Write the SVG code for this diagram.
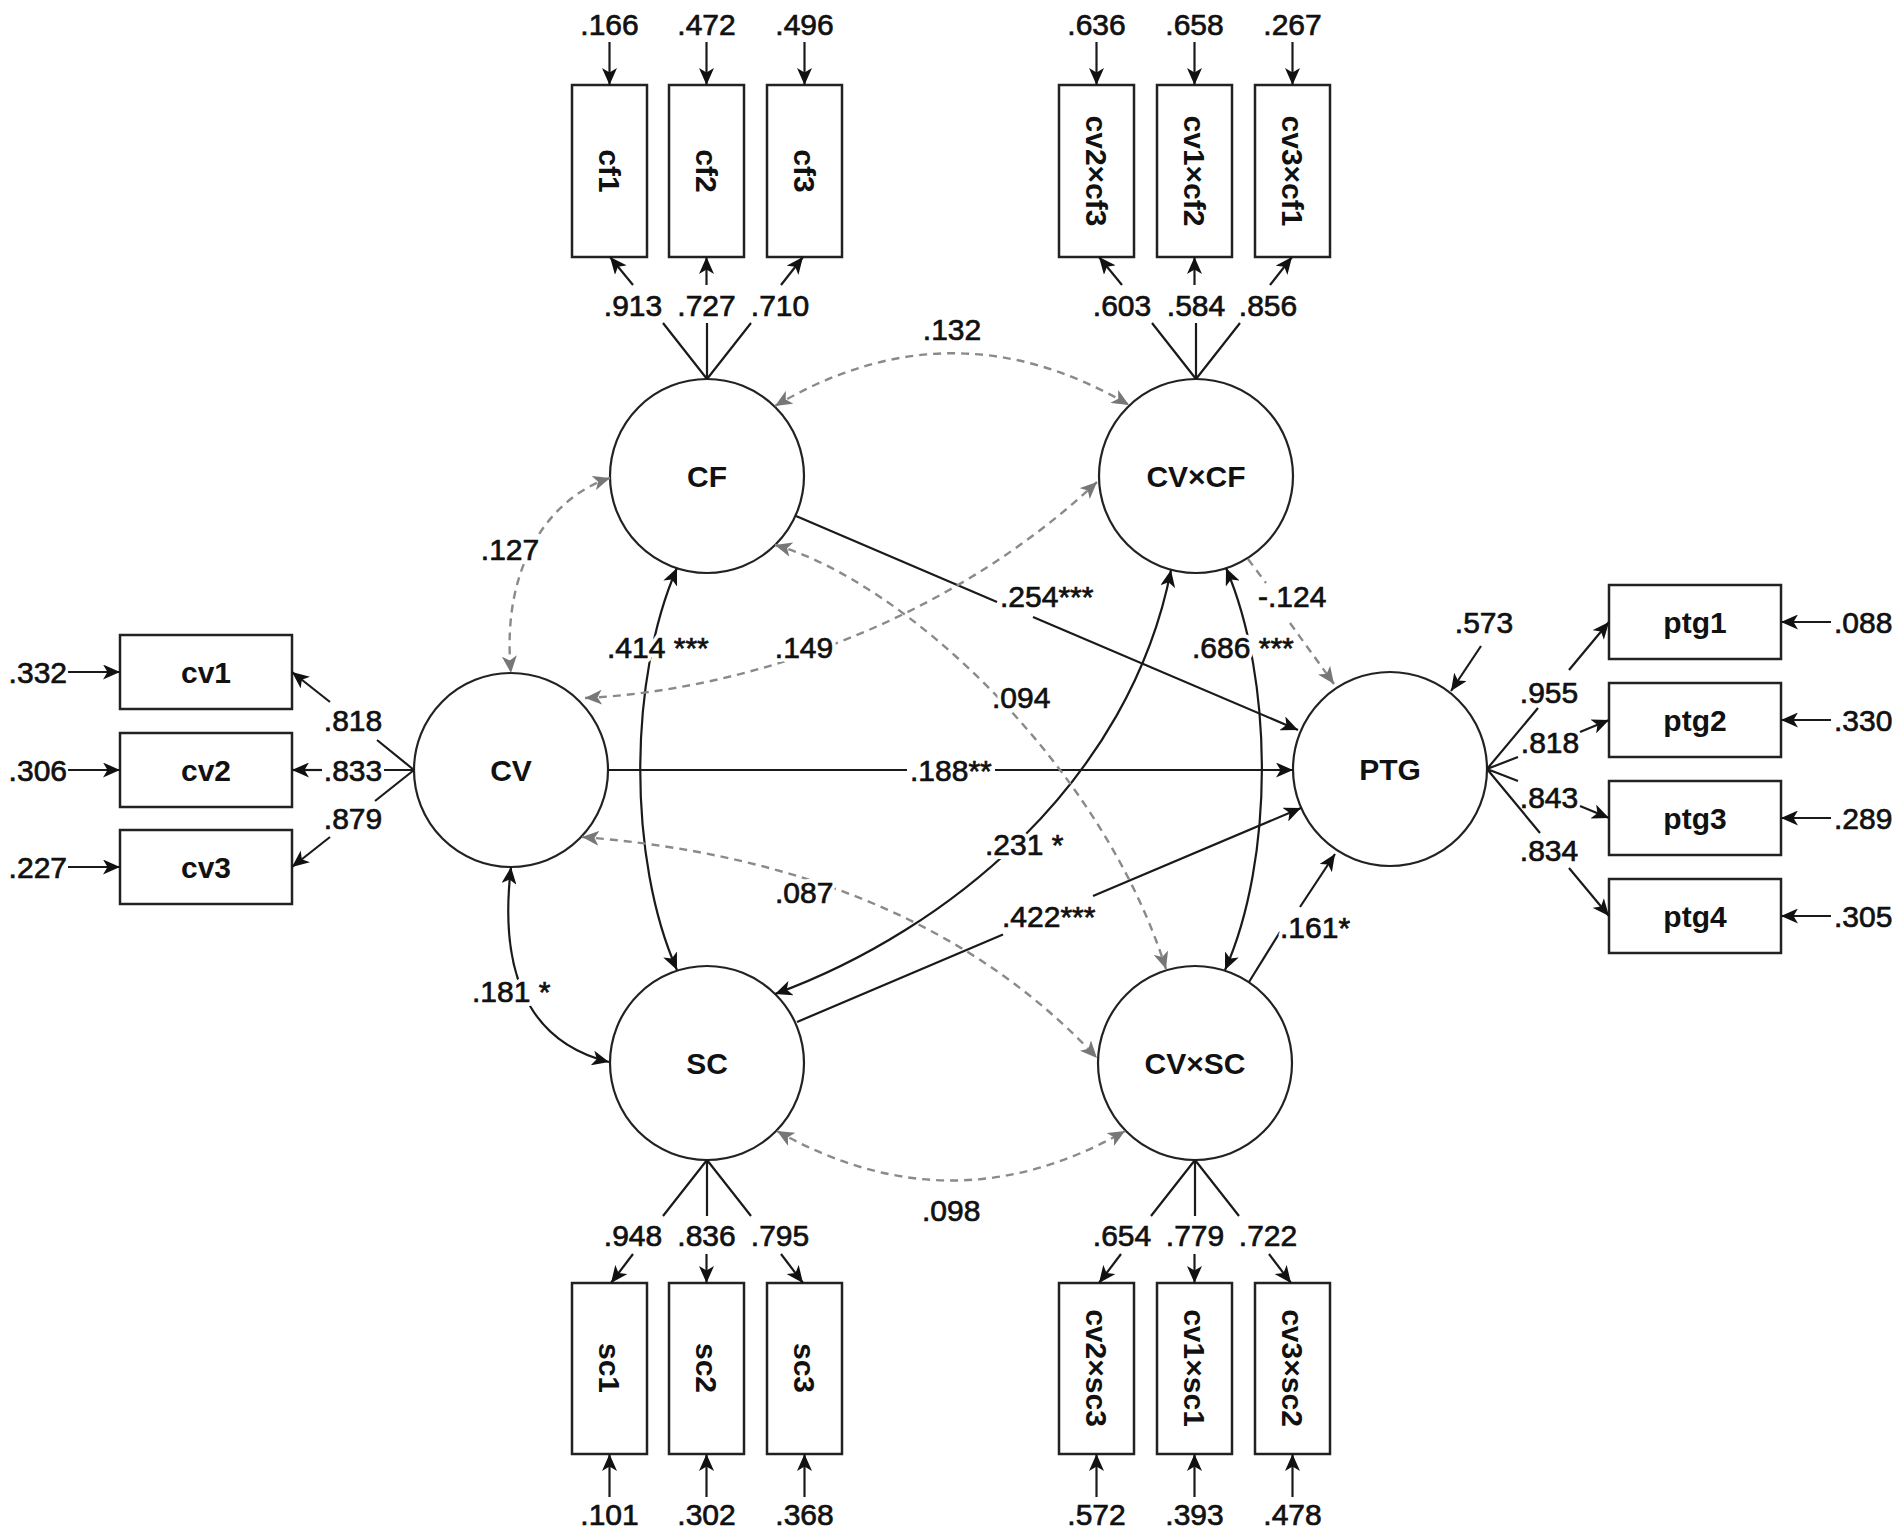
<svg xmlns="http://www.w3.org/2000/svg" width="1902" height="1535" viewBox="0 0 1902 1535">
<style>
text{font-family:"Liberation Sans",Arial,sans-serif;font-size:30px;fill:#111}
.v{stroke:#111;stroke-width:0.7px}
.nm{font-weight:bold}
.m{text-anchor:middle}
.e{text-anchor:end}
.bg{fill:#fff;stroke:#fff;stroke-width:8px;stroke-linejoin:round}
.box{fill:#fff;stroke:#222;stroke-width:2.5}
.lat{fill:#fff;stroke:#222;stroke-width:2.2}
.s{fill:none;stroke:#1a1a1a;stroke-width:2.2}
.d{fill:none;stroke:#8a8a8a;stroke-width:2.4;stroke-dasharray:8 6}
.ae{marker-end:url(#a)}
.ab{marker-start:url(#a);marker-end:url(#a)}
.ge{marker-end:url(#g)}
.gb{marker-start:url(#g);marker-end:url(#g)}
</style>
<defs>
<marker id="a" viewBox="0 0 17 15" refX="17" refY="7.5" markerWidth="17" markerHeight="15" markerUnits="userSpaceOnUse" orient="auto-start-reverse"><path d="M0,0 L17,7.5 L0,15 L4.5,7.5 Z" fill="#111"/></marker>
<marker id="g" viewBox="0 0 17 15" refX="17" refY="7.5" markerWidth="17" markerHeight="15" markerUnits="userSpaceOnUse" orient="auto-start-reverse"><path d="M0,0 L17,7.5 L0,15 L4.5,7.5 Z" fill="#777"/></marker>
</defs>
<rect width="1902" height="1535" fill="#fff"/>

<g id="latent">
<g id="CF"><circle class="lat" cx="707" cy="476" r="97"/><text class="nm m" x="707" y="487">CF</text></g>
<g id="CVxCF"><circle class="lat" cx="1196" cy="476" r="97"/><text class="nm m" x="1196" y="487">CV×CF</text></g>
<g id="CV"><circle class="lat" cx="511" cy="770" r="97"/><text class="nm m" x="511" y="781">CV</text></g>
<g id="PTG"><circle class="lat" cx="1390" cy="769" r="97"/><text class="nm m" x="1390" y="780">PTG</text></g>
<g id="SC"><circle class="lat" cx="707" cy="1063" r="97"/><text class="nm m" x="707" y="1074">SC</text></g>
<g id="CVxSC"><circle class="lat" cx="1195" cy="1063" r="97"/><text class="nm m" x="1195" y="1074">CV×SC</text></g>
</g>

<g id="indicators">
<g id="cf1"><rect class="box" x="572" y="85" width="75" height="172"/><text class="nm m" transform="translate(609.5,171) rotate(90)" y="11">cf1</text></g>
<g id="cf2"><rect class="box" x="669" y="85" width="75" height="172"/><text class="nm m" transform="translate(706.5,171) rotate(90)" y="11">cf2</text></g>
<g id="cf3"><rect class="box" x="767" y="85" width="75" height="172"/><text class="nm m" transform="translate(804.5,171) rotate(90)" y="11">cf3</text></g>
<g id="cv2xcf3"><rect class="box" x="1059" y="85" width="75" height="172"/><text class="nm m" transform="translate(1096.5,171) rotate(90)" y="11">cv2×cf3</text></g>
<g id="cv1xcf2"><rect class="box" x="1157" y="85" width="75" height="172"/><text class="nm m" transform="translate(1194.5,171) rotate(90)" y="11">cv1×cf2</text></g>
<g id="cv3xcf1"><rect class="box" x="1255" y="85" width="75" height="172"/><text class="nm m" transform="translate(1292.5,171) rotate(90)" y="11">cv3×cf1</text></g>
<g id="sc1"><rect class="box" x="572" y="1283" width="75" height="171"/><text class="nm m" transform="translate(609.5,1368) rotate(90)" y="11">sc1</text></g>
<g id="sc2"><rect class="box" x="669" y="1283" width="75" height="171"/><text class="nm m" transform="translate(706.5,1368) rotate(90)" y="11">sc2</text></g>
<g id="sc3"><rect class="box" x="767" y="1283" width="75" height="171"/><text class="nm m" transform="translate(804.5,1368) rotate(90)" y="11">sc3</text></g>
<g id="cv2xsc3"><rect class="box" x="1059" y="1283" width="75" height="171"/><text class="nm m" transform="translate(1096.5,1368) rotate(90)" y="11">cv2×sc3</text></g>
<g id="cv1xsc1"><rect class="box" x="1157" y="1283" width="75" height="171"/><text class="nm m" transform="translate(1194.5,1368) rotate(90)" y="11">cv1×sc1</text></g>
<g id="cv3xsc2"><rect class="box" x="1255" y="1283" width="75" height="171"/><text class="nm m" transform="translate(1292.5,1368) rotate(90)" y="11">cv3×sc2</text></g>
<g id="cv1"><rect class="box" x="120" y="635" width="172" height="74"/><text class="nm m" x="206" y="683">cv1</text></g>
<g id="cv2"><rect class="box" x="120" y="733" width="172" height="74"/><text class="nm m" x="206" y="781">cv2</text></g>
<g id="cv3"><rect class="box" x="120" y="830" width="172" height="74"/><text class="nm m" x="206" y="878">cv3</text></g>
<g id="ptg1"><rect class="box" x="1609" y="585" width="172" height="74"/><text class="nm m" x="1695" y="633">ptg1</text></g>
<g id="ptg2"><rect class="box" x="1609" y="683" width="172" height="74"/><text class="nm m" x="1695" y="731">ptg2</text></g>
<g id="ptg3"><rect class="box" x="1609" y="781" width="172" height="74"/><text class="nm m" x="1695" y="829">ptg3</text></g>
<g id="ptg4"><rect class="box" x="1609" y="879" width="172" height="74"/><text class="nm m" x="1695" y="927">ptg4</text></g>
</g>

<g id="connectors">
<!-- measurement errors -->
<path class="s ae" d="M609.5,42 V85"/><path class="s ae" d="M706.5,42 V85"/><path class="s ae" d="M804.5,42 V85"/>
<path class="s ae" d="M1096.5,42 V85"/><path class="s ae" d="M1194.5,42 V85"/><path class="s ae" d="M1292.5,42 V85"/>
<path class="s ae" d="M609.5,1497 V1454"/><path class="s ae" d="M706.5,1497 V1454"/><path class="s ae" d="M804.5,1497 V1454"/>
<path class="s ae" d="M1096.5,1497 V1454"/><path class="s ae" d="M1194.5,1497 V1454"/><path class="s ae" d="M1292.5,1497 V1454"/>
<path class="s ae" d="M68,672 H120"/><path class="s ae" d="M68,770 H120"/><path class="s ae" d="M68,867 H120"/>
<path class="s ae" d="M1831,622 H1781"/><path class="s ae" d="M1831,720 H1781"/><path class="s ae" d="M1831,818 H1781"/><path class="s ae" d="M1831,916 H1781"/>
<path class="s ae" d="M1481,646 L1451,691"/>
<!-- loadings CF -->
<path class="s" d="M707,379 L663,323 M707,379 V323 M707,379 L751,323"/>
<path class="s ae" d="M633,285 L610,257"/><path class="s ae" d="M706.5,285 V257"/><path class="s ae" d="M781,285 L803,257"/>
<!-- loadings CVxCF -->
<path class="s" d="M1196,379 L1152,323 M1196,379 V323 M1196,379 L1240,323"/>
<path class="s ae" d="M1122,285 L1099,257"/><path class="s ae" d="M1194.5,285 V257"/><path class="s ae" d="M1270,285 L1292,257"/>
<!-- loadings SC -->
<path class="s" d="M707,1160 L663,1216 M707,1160 V1216 M707,1160 L751,1216"/>
<path class="s ae" d="M633,1254 L611,1283"/><path class="s ae" d="M706.5,1254 V1283"/><path class="s ae" d="M781,1254 L803,1283"/>
<!-- loadings CVxSC -->
<path class="s" d="M1195,1160 L1151,1216 M1195,1160 V1216 M1195,1160 L1239,1216"/>
<path class="s ae" d="M1121,1254 L1099,1283"/><path class="s ae" d="M1194.5,1254 V1283"/><path class="s ae" d="M1269,1254 L1291,1283"/>
<!-- loadings CV -->
<path class="s" d="M414,770 L377,740 M414,770 H384 M414,770 L375,801"/>
<path class="s ae" d="M330,702 L292,672"/><path class="s ae" d="M322,770 H292"/><path class="s ae" d="M330,837 L292,867"/>
<!-- loadings PTG -->
<path class="s" d="M1487,769 L1538,708 M1487,769 L1518,757 M1487,769 L1518,781 M1487,769 L1540,833"/>
<path class="s ae" d="M1569,670 L1609,622"/><path class="s ae" d="M1580,732 L1609,720"/><path class="s ae" d="M1580,806 L1609,818"/><path class="s ae" d="M1569,868 L1609,916"/>

<!-- structural paths -->
<path class="s" d="M796,516 L997,602"/><path class="s ae" d="M1033,617 L1298,730"/>
<path class="s" d="M608,770 H907"/><path class="s ae" d="M995,770 H1293"/>
<path class="s" d="M797,1022 L1003,934.5"/><path class="s ae" d="M1093,896 L1301,808"/>
<path class="s" d="M1249,982 L1280,932"/><path class="s ae" d="M1300,907 L1335,854"/>
<path class="d" d="M1248,559 L1266,583"/><path class="d ge" d="M1290,623 L1334,684"/>

<!-- covariances -->
<path class="s ab" d="M677,568 C628,680 628,860 677,970"/>
<path class="s ab" d="M1226,568 C1274,680 1274,860 1225,970"/>
<path class="s ab" d="M775,994 C950,930 1130,780 1171,570"/>
<path class="s ab" d="M511,867 C500,960 520,1040 609,1062"/>
<path class="d gb" d="M775,406 Q952,301 1129,405"/>
<path class="d gb" d="M610,478 C555,495 500,560 511,673"/>
<path class="d gb" d="M585,698 C750,690 950,620 1097,482"/>
<path class="d gb" d="M775,545 C900,580 1100,760 1166,969"/>
<path class="d gb" d="M582,837 C750,850 950,900 1097,1058"/>
<path class="d gb" d="M777,1131 Q952,1230 1125,1131"/>

<!-- path labels: white underlay, then text -->
<g class="bg">
<text class="m" x="510" y="560">.127</text>
<text class="m" x="804" y="658">.149</text>
<text x="607" y="658">.414 ***</text>
<text x="1000" y="607">.254***</text>
<text x="1258" y="607">-.124</text>
<text x="1192" y="658">.686 ***</text>
<text x="992" y="708">.094</text>
<text x="910" y="781">.188**</text>
<text x="985" y="855">.231 *</text>
<text x="775" y="903">.087</text>
<text x="1002" y="927">.422***</text>
<text x="472" y="1002">.181 *</text>
<text x="1280" y="938">.161*</text>
</g>
<text class="v m" x="510" y="560">.127</text>
<text class="v m" x="804" y="658">.149</text>
<text class="v m" x="952" y="340">.132</text>
<text class="v" x="607" y="658">.414 ***</text>
<text class="v" x="1000" y="607">.254***</text>
<text class="v" x="1258" y="607">-.124</text>
<text class="v" x="1192" y="658">.686 ***</text>
<text class="v" x="992" y="708">.094</text>
<text class="v" x="910" y="781">.188**</text>
<text class="v" x="985" y="855">.231 *</text>
<text class="v" x="775" y="903">.087</text>
<text class="v" x="1002" y="927">.422***</text>
<text class="v" x="472" y="1002">.181 *</text>
<text class="v" x="1280" y="938">.161*</text>
<text class="v" x="922" y="1221">.098</text>
</g>

<g id="values" class="v">
<text class="m" x="609.5" y="35">.166</text><text class="m" x="706.5" y="35">.472</text><text class="m" x="804.5" y="35">.496</text>
<text class="m" x="1096.5" y="35">.636</text><text class="m" x="1194.5" y="35">.658</text><text class="m" x="1292.5" y="35">.267</text>
<text class="m" x="633" y="316">.913</text><text class="m" x="706.5" y="316">.727</text><text class="m" x="780" y="316">.710</text>
<text class="m" x="1122" y="316">.603</text><text class="m" x="1196" y="316">.584</text><text class="m" x="1268" y="316">.856</text>
<text class="m" x="633" y="1246">.948</text><text class="m" x="706.5" y="1246">.836</text><text class="m" x="780" y="1246">.795</text>
<text class="m" x="1122" y="1246">.654</text><text class="m" x="1195" y="1246">.779</text><text class="m" x="1268" y="1246">.722</text>
<text class="m" x="609.5" y="1525">.101</text><text class="m" x="706.5" y="1525">.302</text><text class="m" x="804.5" y="1525">.368</text>
<text class="m" x="1096.5" y="1525">.572</text><text class="m" x="1194.5" y="1525">.393</text><text class="m" x="1292.5" y="1525">.478</text>
<text class="e" x="67" y="683">.332</text><text class="e" x="67" y="781">.306</text><text class="e" x="67" y="878">.227</text>
<text class="m" x="353" y="731">.818</text><text class="m" x="353" y="781">.833</text><text class="m" x="353" y="829">.879</text>
<text x="1834" y="633">.088</text><text x="1834" y="731">.330</text><text x="1834" y="829">.289</text><text x="1834" y="927">.305</text>
<text class="m" x="1549" y="703">.955</text><text class="m" x="1550" y="753">.818</text><text class="m" x="1549" y="808">.843</text><text class="m" x="1549" y="861">.834</text>
<text class="m" x="1484" y="633">.573</text>
</g>
</svg>
